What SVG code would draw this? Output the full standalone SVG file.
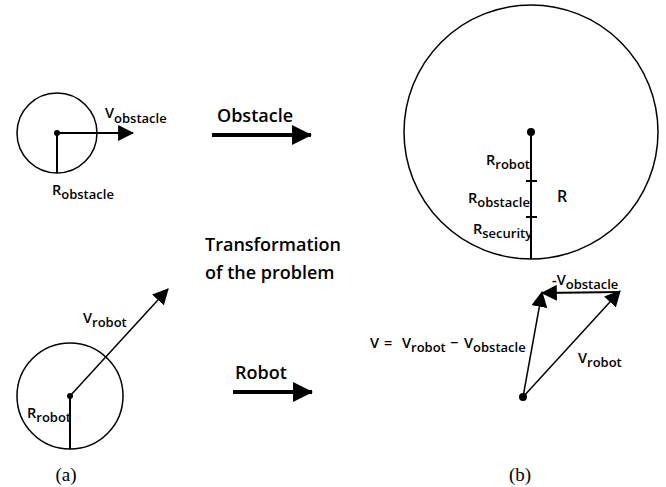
<svg xmlns="http://www.w3.org/2000/svg" width="666" height="487" viewBox="0 0 666 487">
<defs>
<style>
.ln{stroke:#000;fill:none}
.c{stroke:#000;stroke-width:1.5;fill:none}
.t{font-family:"Open Sans","DejaVu Sans",sans-serif;fill:#000;font-weight:600}
.lab{font-size:14.5px}
.sub{font-size:13px}
.big{font-size:18px}
.cap{font-family:"Liberation Serif",serif;font-size:19px;fill:#000}
</style>
<marker id="thin" markerUnits="userSpaceOnUse" markerWidth="16" markerHeight="16" viewBox="0 0 14 14" refX="13" refY="7" orient="auto">
<path d="M0,0 L14,7 L0,14 Z" fill="#000"/>
</marker>
<marker id="thick" markerUnits="userSpaceOnUse" markerWidth="20" markerHeight="20" viewBox="0 0 20 20" refX="19" refY="10" orient="auto">
<path d="M0,0 L20,10 L0,20 Z" fill="#000"/>
</marker>
</defs>

<g id="obstacle-a">
<circle class="c" cx="57" cy="133" r="40"/>
<circle cx="57" cy="133" r="3" fill="#000"/>
<line class="ln" x1="57" y1="133" x2="57" y2="173" stroke-width="2"/>
<text class="t lab" x="52" y="195">R<tspan class="sub" dy="4">obstacle</tspan></text>
<text class="t lab" x="105" y="118">V<tspan class="sub" dy="5">obstacle</tspan></text>
</g>

<g id="robot-a">
<circle class="c" cx="70" cy="396" r="53"/>
<circle cx="70" cy="396" r="3" fill="#000"/>
<line class="ln" x1="70" y1="396" x2="70" y2="449" stroke-width="2"/>
<text class="t lab" x="27" y="418">R<tspan class="sub" dy="4">robot</tspan></text>
<text class="t lab" x="83" y="323">V<tspan class="sub" dy="4">robot</tspan></text>
</g>

<g id="transformation">
<text class="t big" x="205" y="251">Transformation</text>
<text class="t big" x="205" y="279">of the problem</text>
</g>

<g id="obstacle-label">
<text class="t big" x="217" y="122">Obstacle</text>
</g>
<g id="robot-label">
<text class="t big" x="235" y="379">Robot</text>
</g>

<g id="big-circle-b">
<circle class="c" cx="531" cy="132" r="127"/>
<circle cx="531" cy="132" r="4" fill="#000"/>
<line class="ln" x1="531" y1="132" x2="531" y2="259" stroke-width="2"/>
<line class="ln" x1="526" y1="181" x2="537" y2="181" stroke-width="2"/>
<line class="ln" x1="526" y1="217" x2="537" y2="217" stroke-width="2"/>
<text class="t lab" x="486" y="165">R<tspan class="sub" dy="4">robot</tspan></text>
<text class="t lab" x="468" y="203">R<tspan class="sub" dy="4">obstacle</tspan></text>
<text class="t lab" x="473" y="234">R<tspan class="sub" dy="4">security</tspan></text>
<text class="t" x="557" y="202" font-size="16">R</text>
</g>

<g id="velocity-b">
<circle cx="523" cy="397" r="4" fill="#000"/>
<text class="t lab" y="348"><tspan x="370">V</tspan><tspan x="384">=</tspan><tspan x="402">V</tspan><tspan class="sub" dy="4">robot</tspan><tspan x="450" dy="-4">−</tspan><tspan x="464">V</tspan><tspan class="sub" dy="4">obstacle</tspan></text>
<text class="t lab" x="578" y="363">V<tspan class="sub" dy="4">robot</tspan></text>
<text class="t lab" x="552" y="285">-V<tspan class="sub" dy="4">obstacle</tspan></text>
</g>

<g id="connectors">
<line class="ln" x1="57" y1="133" x2="133" y2="133" stroke-width="2" marker-end="url(#thin)"/>
<line class="ln" x1="70" y1="396" x2="168" y2="289" stroke-width="1.5" marker-end="url(#thin)"/>
<line class="ln" x1="212" y1="135" x2="311" y2="135" stroke-width="4" marker-end="url(#thick)"/>
<line class="ln" x1="233" y1="392" x2="312" y2="392" stroke-width="4" marker-end="url(#thick)"/>
<line class="ln" x1="523" y1="397" x2="620" y2="291" stroke-width="1.5" marker-end="url(#thin)"/>
<line class="ln" x1="620" y1="292" x2="542" y2="293" stroke-width="2" marker-end="url(#thin)"/>
<line class="ln" x1="523" y1="397" x2="542" y2="292" stroke-width="1.5" marker-end="url(#thin)"/>
</g>

<g id="captions">
<text class="cap" x="66" y="481" text-anchor="middle">(a)</text>
<text class="cap" x="520" y="481" text-anchor="middle">(b)</text>
</g>
</svg>
